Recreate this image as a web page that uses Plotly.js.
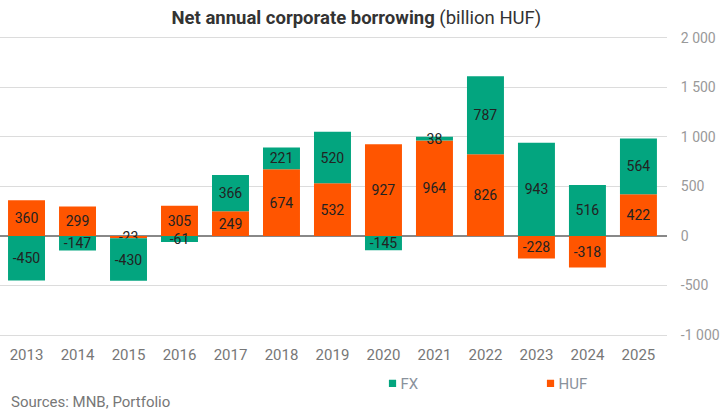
<!DOCTYPE html>
<html>
<head>
<meta charset="utf-8">
<script src="https://cdn.plot.ly/plotly-3.0.1.min.js"></script>
<style>
  html, body { margin: 0; padding: 0; background: #fff; }
  #chart { width: 720px; height: 413px; }
</style>
</head>
<body>
<div id="chart"></div>
<script>
// Net annual corporate borrowing, billion HUF
var years = ['2013', '2014', '2015', '2016', '2017', '2018', '2019', '2020', '2021', '2022', '2023', '2024', '2025'];
var huf = [360, 299, -23, 305, 249, 674, 532, 927, 964, 826, -228, -318, 422];
var fx = [-450, -147, -430, -61, 366, 221, 520, -145, 38, 787, 943, 516, 564];

var yTicks = [2000, 1500, 1000, 500, 0, -500, -1000];
var yTickText = ['2 000', '1 500', '1 000', '500', '0', '-500', '-1 000'];

var green = '#03a57f';
var orange = '#ff5500';

// HUF first so it sits next to the zero line, FX stacked on top
var traceHUF = {
  x: years,
  y: huf,
  name: 'HUF',
  type: 'bar',
  marker: {color: orange},
  text: huf.map(String),
  textposition: 'inside',
  insidetextanchor: 'middle',
  textangle: 0,
  textfont: {color: '#222', size: 14},
  hoverinfo: 'x+y+name'
};

var traceFX = {
  x: years,
  y: fx,
  name: 'FX',
  type: 'bar',
  marker: {color: green},
  text: fx.map(String),
  textposition: 'inside',
  insidetextanchor: 'middle',
  textangle: 0,
  textfont: {color: '#222', size: 14},
  hoverinfo: 'x+y+name'
};

var layout = {
  width: 720,
  height: 413,
  barmode: 'relative',
  bargap: 0.275,
  font: {family: 'Roboto, sans-serif', color: '#777'},
  uniformtext: {minsize: 14, mode: 'show'},
  margin: {l: 0, r: 53, t: 36, b: 76},
  paper_bgcolor: '#fff',
  plot_bgcolor: '#fff',
  title: {
    text: '<b>Net annual corporate borrowing</b> (billion HUF)',
    font: {size: 18.5, color: '#333'},
    x: 0.495,
    xref: 'container',
    xanchor: 'center',
    y: 0.958,
    yref: 'container',
    yanchor: 'middle'
  },
  xaxis: {
    type: 'category',
    range: [-0.52, 12.56],
    showgrid: false,
    zeroline: false,
    showline: false,
    ticks: 'outside',
    ticklen: 4,
    tickcolor: 'rgba(0,0,0,0)',
    tickfont: {size: 15, color: '#777'},
    fixedrange: true
  },
  yaxis: {
    side: 'right',
    range: [-1020, 2020],
    tickvals: yTicks,
    ticktext: yTickText,
    showgrid: true,
    gridcolor: '#dcdcdc',
    gridwidth: 1,
    zeroline: true,
    zerolinecolor: '#888',
    zerolinewidth: 2,
    ticks: 'outside',
    ticklen: 10,
    tickcolor: 'rgba(0,0,0,0)',
    tickfont: {size: 14, color: '#999'},
    fixedrange: true
  },
  showlegend: true,
  legend: {
    orientation: 'h',
    traceorder: 'reversed',
    x: 0.5405,
    xanchor: 'left',
    y: -0.155,
    yanchor: 'middle',
    entrywidth: 113,
    entrywidthmode: 'pixels',
    itemwidth: 30,
    font: {size: 15, color: '#8a929c'}
  },
  annotations: [{
    text: 'Sources: MNB, Portfolio',
    xref: 'paper',
    yref: 'paper',
    x: 0.013,
    xanchor: 'left',
    y: -0.215,
    yanchor: 'middle',
    showarrow: false,
    font: {size: 15, color: '#777'}
  }]
};

Plotly.newPlot('chart', [traceHUF, traceFX], layout, {displayModeBar: false, staticPlot: true})
  .then(function(gd) {
    // smaller legend squares, closer to their labels
    var pts = gd.querySelectorAll('.legend .legendpoints path');
    pts.forEach(function(p) {
      p.setAttribute('transform', 'translate(32,0) scale(0.6)');
    });
  });
</script>
</body>
</html>
